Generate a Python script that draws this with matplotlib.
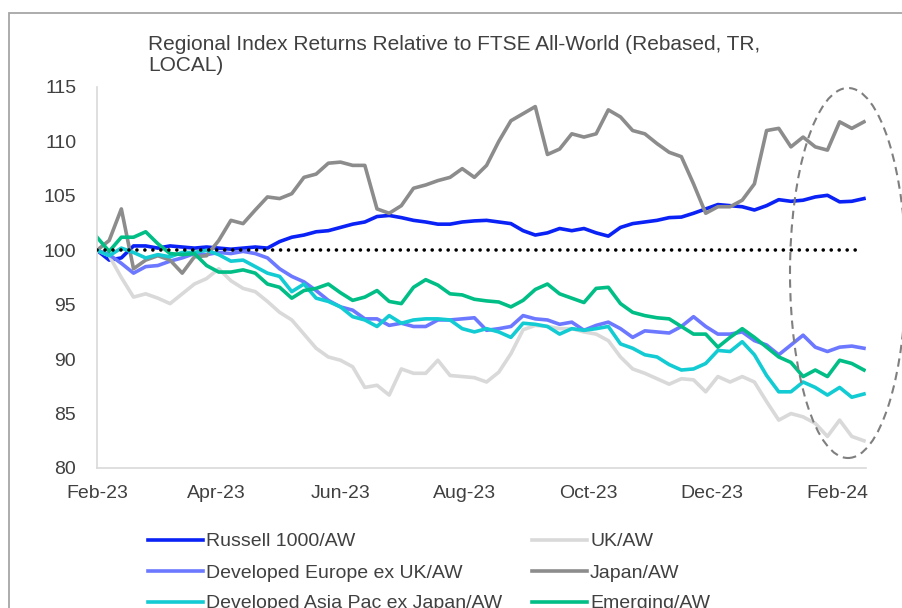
import matplotlib
matplotlib.use("Agg")
import matplotlib.pyplot as plt
import matplotlib.dates as mdates
from matplotlib.lines import Line2D
from matplotlib.patches import Ellipse, Rectangle
import pandas as pd

plt.rcParams["font.family"] = ["Liberation Sans", "DejaVu Sans"]

# observation dates (every 6 days from mid Feb-23 to end Feb-24)
DATES = pd.date_range("2023-02-13", periods=64, freq="6D")

RUSSELL = [
    100.0, 99.1, 99.3, 100.4, 100.4, 100.2, 100.4, 100.3, 100.2, 100.3,
    100.2, 100.1, 100.2, 100.3, 100.2, 100.8, 101.2, 101.4, 101.7, 101.8,
    102.1, 102.4, 102.6, 103.1, 103.2, 103.0, 102.75, 102.6, 102.4, 102.4,
    102.6, 102.7, 102.75, 102.6, 102.45, 101.8, 101.4, 101.6, 102.0, 101.8,
    102.0, 101.6, 101.3, 102.1, 102.45, 102.6, 102.75, 103.0, 103.05, 103.4,
    103.8, 104.2, 104.1, 104.0, 103.7, 104.1, 104.65, 104.5, 104.6, 104.9,
    105.05, 104.45, 104.5, 104.75,
]
UK = [
    100.0, 99.5, 97.5, 95.7, 96.0, 95.6, 95.1, 96.0, 96.9, 97.4,
    98.3, 97.2, 96.5, 96.2, 95.3, 94.3, 93.6, 92.3, 91.0, 90.2,
    89.9, 89.3, 87.4, 87.6, 86.7, 89.1, 88.7, 88.7, 89.9, 88.5,
    88.4, 88.3, 87.9, 88.8, 90.5, 92.7, 93.1, 93.0, 92.8, 92.8,
    92.5, 92.3, 91.7, 90.2, 89.1, 88.7, 88.2, 87.7, 88.2, 88.1,
    87.0, 88.4, 87.9, 88.4, 87.9, 86.1, 84.4, 85.0, 84.7, 84.1,
    82.9, 84.4, 82.9, 82.5,
]
DEV_EUROPE = [
    100.0, 99.6, 98.8, 97.9, 98.5, 98.6, 99.0, 99.3, 99.7, 99.6,
    99.8, 99.7, 99.9, 99.7, 99.3, 98.3, 97.6, 97.1, 96.3, 95.4,
    94.8, 94.5, 93.7, 93.7, 93.1, 93.3, 93.0, 93.0, 93.6, 93.6,
    93.7, 93.8, 92.65, 92.8, 93.0, 94.0, 93.7, 93.6, 93.2, 93.4,
    92.65, 93.1, 93.4, 92.8, 92.0, 92.6, 92.5, 92.4, 93.0, 93.9,
    93.0, 92.3, 92.3, 92.5, 91.7, 91.3, 90.4, 91.3, 92.2, 91.1,
    90.7, 91.1, 91.2, 91.0,
]
JAPAN = [
    100.0, 100.9, 103.8, 98.3, 99.1, 99.5, 99.1, 97.9, 99.4, 99.5,
    100.9, 102.75, 102.45, 103.7, 104.9, 104.75, 105.2, 106.7, 107.0, 108.0,
    108.1, 107.8, 107.8, 103.8, 103.4, 104.1, 105.7, 106.0, 106.4, 106.7,
    107.5, 106.7, 107.8, 110.0, 111.9, 112.55, 113.2, 108.8, 109.3, 110.7,
    110.4, 110.7, 112.9, 112.25, 111.0, 110.7, 109.8, 109.0, 108.6, 106.1,
    103.4, 104.0, 104.0, 104.6, 106.1, 111.0, 111.2, 109.5, 110.4, 109.5,
    109.2, 111.8, 111.2, 111.8,
]
ASIA_PAC = [
    100.0, 99.5, 100.2, 99.8, 99.3, 99.6, 99.4, 99.8, 99.8, 100.0,
    99.6, 99.0, 99.1, 98.5, 97.9, 97.6, 96.2, 96.9, 95.6, 95.3,
    94.8, 93.9, 93.6, 93.0, 94.0, 93.3, 93.6, 93.7, 93.7, 93.6,
    92.8, 92.5, 92.8, 92.5, 92.0, 93.3, 93.2, 93.0, 92.3, 92.8,
    92.65, 92.8, 93.0, 91.4, 91.0, 90.4, 90.2, 89.5, 89.0, 89.1,
    89.6, 90.8, 90.7, 91.6, 90.4, 88.5, 87.0, 87.0, 87.9, 87.4,
    86.7, 87.4, 86.5, 86.8,
]
EMERGING = [
    101.2, 99.9, 101.2, 101.2, 101.7, 100.6, 99.7, 99.6, 99.7, 98.6,
    98.0, 98.0, 98.2, 97.9, 96.9, 96.6, 95.6, 96.3, 96.5, 96.9,
    96.1, 95.4, 95.7, 96.3, 95.3, 95.1, 96.6, 97.3, 96.8, 96.0,
    95.9, 95.5, 95.35, 95.25, 94.8, 95.4, 96.4, 96.9, 96.0, 95.6,
    95.2, 96.5, 96.6, 95.1, 94.3, 94.0, 93.8, 93.7, 93.0, 92.3,
    92.3, 91.1, 92.0, 92.8, 92.0, 91.1, 90.2, 89.7, 88.4, 89.0,
    88.4, 89.9, 89.6, 89.0,
]

SERIES = [
    ("Russell 1000/AW", RUSSELL, "#0A22F5"),
    ("UK/AW", UK, "#D9D9D9"),
    ("Developed Europe ex UK/AW", DEV_EUROPE, "#6B78FF"),
    ("Japan/AW", JAPAN, "#8C8C8C"),
    ("Developed Asia Pac ex Japan/AW", ASIA_PAC, "#12CBD3"),
    ("Emerging/AW", EMERGING, "#00BE86"),
]

BASELINE = 100
Y_TICKS = [80, 85, 90, 95, 100, 105, 110, 115]
X_TICKS = pd.to_datetime([
    "2023-02-13", "2023-04-13", "2023-06-13", "2023-08-13",
    "2023-10-13", "2023-12-13", "2024-02-13",
])

TITLE = "Regional Index Returns Relative to FTSE All-World (Rebased, TR,\nLOCAL)"
TEXT = "#404040"
W, H = 902, 608

fig = plt.figure(figsize=(W / 100, H / 100), dpi=100)
ax = fig.add_axes([97 / W, 1 - 468 / H, (866 - 97) / W, (468 - 87) / H])

handles = []
for name, values, color in SERIES:
    (ln,) = ax.plot(DATES, values, color=color, lw=2.6, solid_joinstyle="round", label=name)
    handles.append(ln)

ax.hlines(BASELINE, DATES[0], DATES[-1] - pd.Timedelta(days=3), colors="black",
          linestyles=(0, (0.01, 2.2)), lw=2.6, capstyle="round", zorder=5)

ax.set_ylim(80, 115)
ax.set_yticks(Y_TICKS)
ax.set_xlim(DATES[0], DATES[0] + pd.Timedelta(days=379))
ax.set_xticks(X_TICKS)
ax.xaxis.set_major_formatter(mdates.DateFormatter("%b-%y"))
ax.tick_params(length=0, labelsize=14, colors=TEXT)
ax.tick_params(axis="y", pad=15)
ax.tick_params(axis="x", pad=12)
for s in ["top", "right"]:
    ax.spines[s].set_visible(False)
for s in ["left", "bottom"]:
    ax.spines[s].set_color("#D9D9D9")
    ax.spines[s].set_linewidth(1.2)

fig.text(148 / W, 1 - 35 / H, TITLE, ha="left", va="top", fontsize=15,
         color=TEXT, linespacing=1.15)

# chart frame (cut by the picture edges)
fig.add_artist(Rectangle((8.5 / W, -0.1), 1.2, 1.1 - 13.5 / H, fill=False,
                         ec="#A6A6A6", lw=1.3, transform=fig.transFigure))

# dashed ellipse highlighting the latest moves
fig.add_artist(Ellipse((848 / W, 1 - 273 / H), 116 / W, 370 / H, fill=False,
                       ec="#7F7F7F", lw=1.5, ls=(0, (4, 2.6)),
                       transform=fig.transFigure, clip_on=False))

# legend, two columns
col_x = [148, 532]
row_y = [540, 571, 602]
for k, (h, (name, _, color)) in enumerate(zip(handles, SERIES)):
    cx = col_x[k % 2]
    cy = 1 - row_y[k // 2] / H
    fig.add_artist(Line2D([cx / W, (cx + 55) / W], [cy, cy], color=color, lw=2.6,
                          transform=fig.transFigure))
    fig.text((cx + 58) / W, cy, name, ha="left", va="center_baseline",
             fontsize=14, color=TEXT)

fig.savefig("out.png", dpi=100)
